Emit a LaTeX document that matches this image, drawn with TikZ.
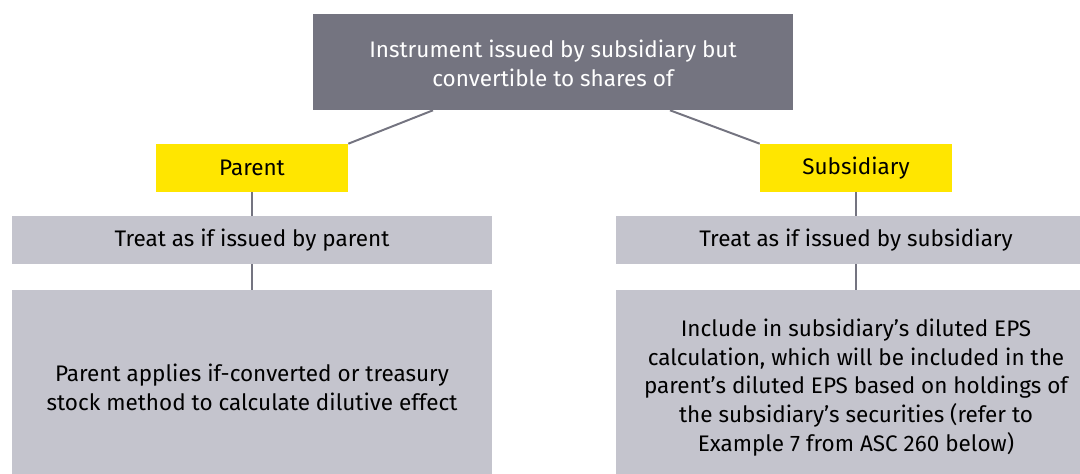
\documentclass[tikz,border=0pt]{standalone}
\usepackage{fontspec}
\setmainfont{Fira Sans}
\usepackage{xcolor}
\usepackage{tikz}
\usetikzlibrary{calc}
\definecolor{darkgrey}{HTML}{747480}
\definecolor{eyyellow}{HTML}{FFE600}
\definecolor{lightgrey}{HTML}{C4C4CD}
\tikzstyle{topbox} = [rectangle, minimum width=12cm, minimum height=2.4cm, text centered, align=center, fill=darkgrey, text=white, inner sep=0pt]
\tikzstyle{choice} = [rectangle, minimum width=4.8cm, minimum height=1.2cm, text centered, fill=eyyellow, inner sep=0pt]
\tikzstyle{treat} = [rectangle, minimum width=11.975cm, minimum height=1.2cm, text centered, fill=lightgrey, inner sep=0pt]
\tikzstyle{detail} = [rectangle, minimum width=12cm, minimum height=4.875cm, text centered, align=center, fill=lightgrey, inner sep=0pt]
\tikzstyle{link} = [line width=1.4pt, draw=darkgrey]

\begin{document}
\begin{tikzpicture}[x=0.025cm, y=-0.025cm, font=\fontsize{16}{20.5}\selectfont]
        \useasboundingbox (0,0) rectangle (1080,474);

        % Nodes
        \node (top) [topbox] at (553,62) {\rule{0pt}{14pt}Instrument issued by subsidiary but\\convertible to shares of};
        \node (parent) [choice] at (252,168) {Parent};
        \node (sub) [choice] at (856,168) {Subsidiary};
        \node (treatpar) [treat] at (252,240) {Treat as if issued by parent};
        \node (treatsub) [treat] at (856,240) {Treat as if issued by subsidiary};
        \node (applypar) [detail] at (252,387.5) {Parent applies if-converted or treasury\\stock method to calculate dilutive effect};
        \node (inclsub) [detail] at (856,387.5) {Include in subsidiary’s diluted EPS\\calculation, which will be included in the\\parent’s diluted EPS based on holdings of\\the subsidiary’s securities (refer to\\Example 7 from ASC 260 below)};

        % Lines
        \draw [link] ($(top.south)+(-120,0)$) -- (parent.north east);
        \draw [link] ($(top.south)+(117,0)$) -- (sub.north west);
        \draw [link] (parent) -- (treatpar);
        \draw [link] (treatpar) -- (applypar);
        \draw [link] (sub) -- (treatsub);
        \draw [link] (treatsub) -- (inclsub);

    \end{tikzpicture}
\end{document}
